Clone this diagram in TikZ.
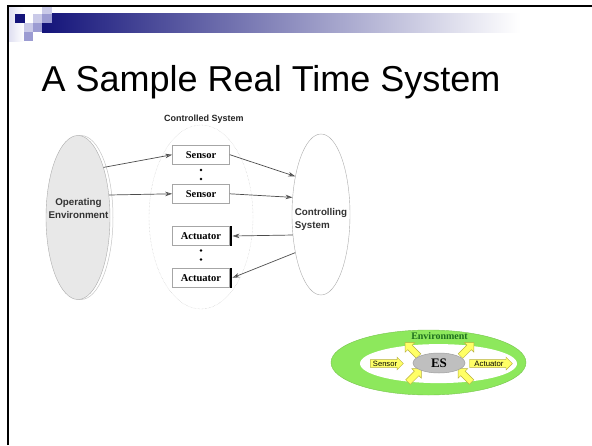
\documentclass[tikz,border=0pt]{standalone}
\usepackage{fontspec}
\setmainfont{Liberation Sans}
\newfontfamily\seriffont{Liberation Serif}
\usetikzlibrary{shapes.geometric,shapes.arrows,arrows.meta}
\definecolor{navy}{HTML}{14147A}
\definecolor{lavlight}{HTML}{CACAE8}
\definecolor{lavmid}{HTML}{9C9CD2}
\definecolor{envgreen}{HTML}{8DE85C}
\definecolor{envtext}{HTML}{1E6E1E}
\definecolor{yarrowfill}{HTML}{FFFF66}
\definecolor{yarrowedge}{HTML}{B8B040}
\begin{document}
\begin{tikzpicture}[x=1pt,y=-1pt,
  box/.style={draw=gray!70, fill=white, line width=0.6pt, minimum width=57pt, minimum height=19pt, inner sep=0pt, font=\seriffont\bfseries\fontsize{10.5}{12}\selectfont},
  conn/.style={draw=gray!60!black, line width=0.7pt, -{Stealth[length=7pt,width=4.5pt,fill=gray!25]}},
  lbl/.style={font=\bfseries\fontsize{9.8}{12.5}\selectfont, text=black!80},
  yarrow/.style={single arrow, fill=yarrowfill, draw=yarrowedge, line width=0.4pt, inner sep=1pt},
  diag/.style={yarrow, inner sep=3pt, minimum height=19pt, single arrow head extend=3.5pt}
]
\useasboundingbox (0,0) rectangle (592,445);
\fill[white] (0,0) rectangle (592,445);
% slide decoration
\shade[left color=lavlight!60, right color=white] (8.5,6.5) rectangle (24,41);
\shade[left color=navy, right color=white] (42,13.5) rectangle (520,32);
\fill[lavlight] (41.8,6.5) rectangle (51.5,13.5);
\fill[lavmid] (41.8,13.5) rectangle (51.5,23);
\fill[lavlight] (33,13.5) rectangle (41.8,23);
\fill[navy] (15,14) rectangle (24.5,22.7);
\fill[lavlight] (24,23) rectangle (33,32);
\fill[lavmid] (33,23) rectangle (41.8,32);
\fill[lavmid] (24,32) rectangle (33,41);
\draw[line width=2pt] (7.5,445) -- (7.5,5.5) -- (592,5.5);
% title
\node[anchor=base west, inner sep=0pt, font=\fontsize{36}{40}\selectfont] (title) at (41.5,91.5) {A Sample Real Time System};
% real-time system diagram
\node[font=\bfseries\fontsize{9}{10}\selectfont, text=black!85] (cslabel) at (204,119.5) {Controlled System};
\node[ellipse, draw=gray!45, densely dotted, minimum width=104pt, minimum height=184pt, inner sep=0pt] (cs) at (201,217) {};
\node[ellipse, draw=gray!45, line width=0.5pt, minimum width=64pt, minimum height=164pt, inner sep=0pt] (opshadow) at (81,217.5) {};
\node[ellipse, draw=gray!65, fill=gray!18, minimum width=64pt, minimum height=164pt, inner sep=0pt] (op) at (78,217.5) {};
\node[lbl, align=center] (optext) at (78.5,208.5) {Operating\\Environment};
\node[box] (s1) at (201,154.7) {Sensor};
\node[box] (s2) at (201,193.8) {Sensor};
\node[box] (a1) at (201,236) {Actuator};
\node[box] (a2) at (201,277.8) {Actuator};
\fill (201,170) circle (1.4);
\fill (201,179) circle (1.4);
\fill (201,250.5) circle (1.4);
\fill (201,259.5) circle (1.4);
\draw[line width=2.4pt] ([xshift=1.2pt]a1.north east) -- ([xshift=1.2pt]a1.south east);
\draw[line width=2.4pt] ([xshift=1.2pt]a2.north east) -- ([xshift=1.2pt]a2.south east);
\node[ellipse, draw=gray!65, fill=white, minimum width=58pt, minimum height=161pt, inner sep=0pt] (ctl) at (321,214.5) {};
\node[lbl, align=left] (ctltext) at (321,219.5) {Controlling\\System};
\draw[conn] (op.63) -- (s1.west);
\draw[conn] (op.36) -- (s2.west);
\draw[conn] (s1.east) -- (ctl.124);
\draw[conn] (s2.east) -- (ctl.149);
\draw[conn] (ctl.216) -- ([xshift=2.6pt]a1.east);
\draw[conn] (ctl.236) -- ([xshift=2.6pt]a2.east);
% embedded system picture
\node[ellipse, fill=envgreen, draw=envgreen!85!black, line width=0.4pt, minimum width=195pt, minimum height=65pt, inner sep=0pt] (env) at (428.5,362.5) {};
\node[ellipse, fill=white, minimum width=157pt, minimum height=39pt, inner sep=0pt] (inner) at (438.5,363.6) {};
\node[font=\seriffont\bfseries\fontsize{10}{12}\selectfont, text=envtext, inner sep=0pt] (envlabel) at (439.5,335.7) {Environment};
\node[diag, rotate=135] (d1) at (413,350.5) {};
\node[diag, rotate=45] (d2) at (466,350.5) {};
\node[diag, rotate=45] (d3) at (413.5,376.5) {};
\node[diag, rotate=135] (d4) at (466,376.5) {};
\node[ellipse, fill=gray!50, draw=gray!75, line width=0.5pt, minimum width=52pt, minimum height=20pt, inner sep=0pt, font=\seriffont\bfseries\fontsize{13}{14}\selectfont] (es) at (439,363) {ES};
\node[yarrow, minimum height=33pt, single arrow head extend=2.5pt, font=\fontsize{7.6}{9}\selectfont] (sensarr) at (385,363.5) {Sensor};
\node[yarrow, minimum height=43pt, single arrow head extend=2.5pt, font=\fontsize{7.8}{9}\selectfont] (actarr) at (489,363.5) {Actuator};
\end{tikzpicture}
\end{document}
